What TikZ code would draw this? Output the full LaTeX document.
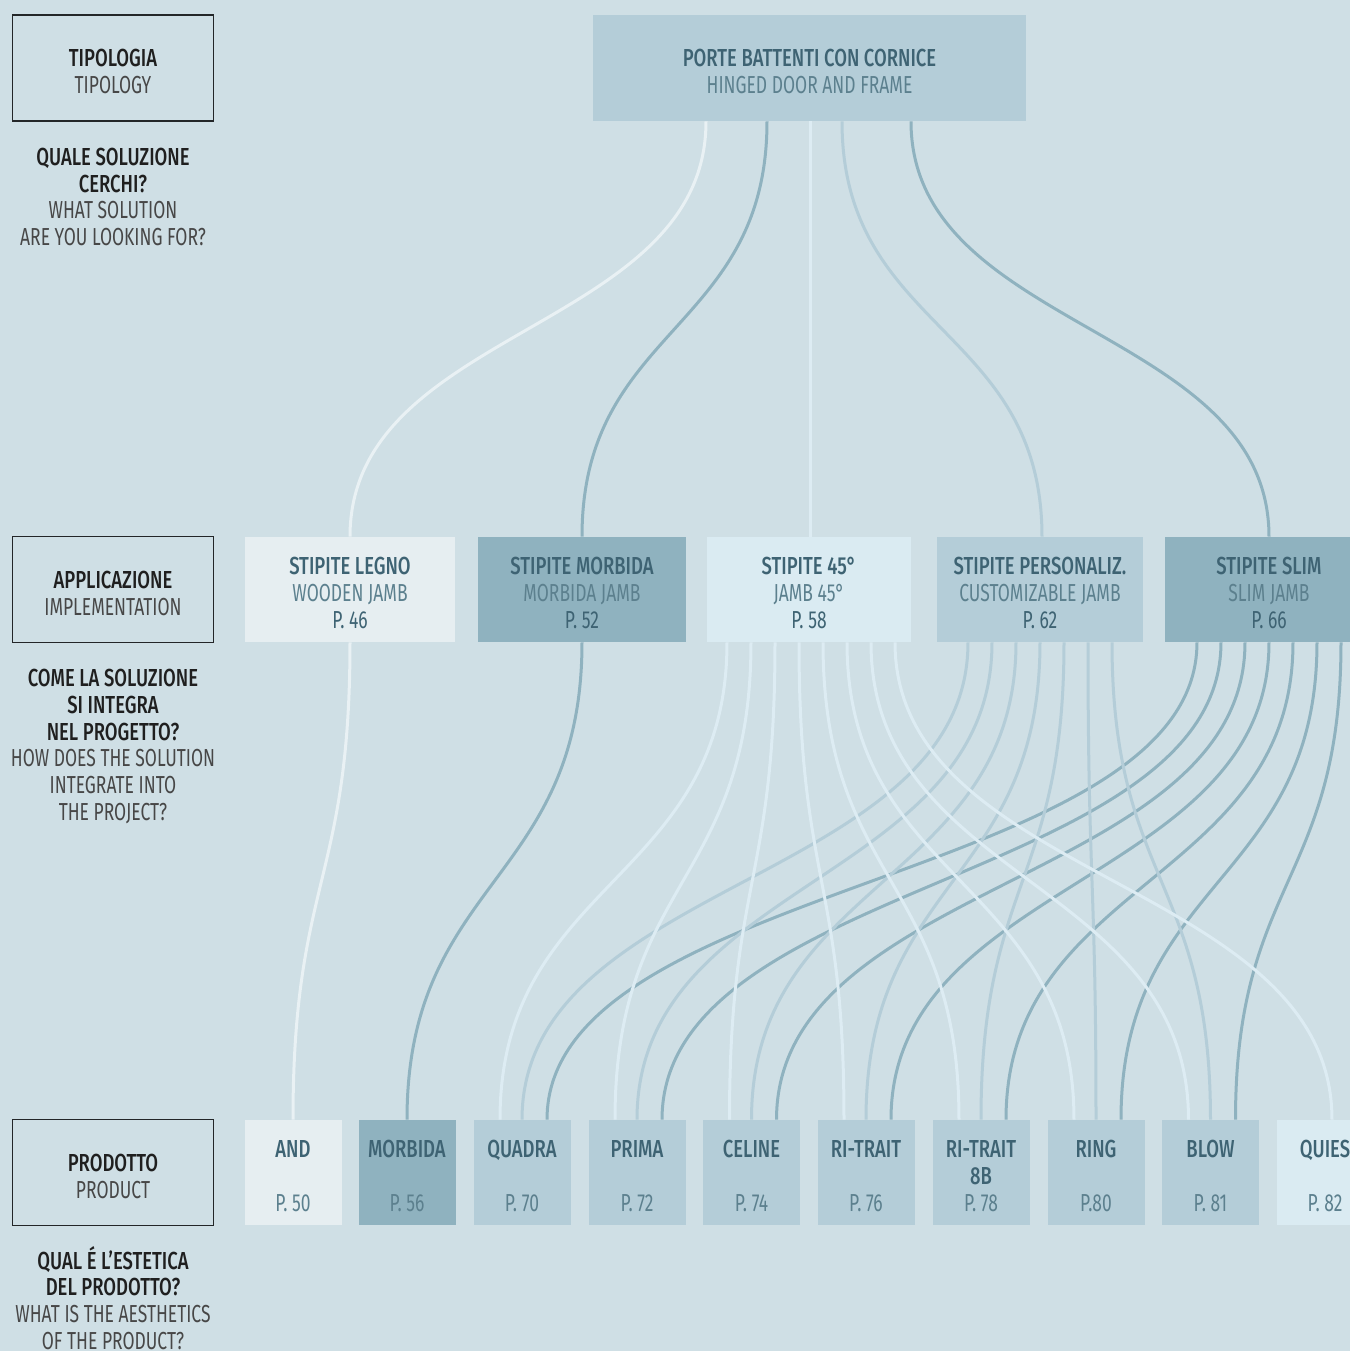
\documentclass[tikz,border=0pt]{standalone}
\usepackage{fontspec}
\setmainfont{Fira Sans}[BoldFont={Fira Sans Medium}, UprightFeatures={FakeStretch=0.71}, BoldFeatures={FakeStretch=0.75}]
\definecolor{PtBg}{RGB}{207,223,229}
\definecolor{PtPale}{RGB}{230,238,241}
\definecolor{PtIce}{RGB}{218,235,242}
\definecolor{PtMid}{RGB}{180,205,216}
\definecolor{PtDark}{RGB}{143,178,191}
\definecolor{PtInk}{RGB}{62,99,115}
\definecolor{PtSoft}{RGB}{92,128,142}
\definecolor{PtPaleLine}{RGB}{233,241,244}
\definecolor{PtIceLine}{RGB}{221,236,243}
\definecolor{PtFrame}{RGB}{35,38,40}
\usetikzlibrary{calc,backgrounds}
\newcommand{\lite}[1]{{\color{PtSoft}#1}}
\newcommand{\greytxt}[1]{{\color{black!72}#1}}
\newcommand{\topgap}{\mbox{}\\[-1pt]}

\begin{document}
\begin{tikzpicture}[
    x=0.5pt, y=-0.5pt,
    pbox/.style={rectangle, fill=#1, inner sep=0pt, minimum height=52.5pt, align=center, text=PtInk, font=\fontsize{12.3}{13.5}\selectfont},
    lbox/.style={rectangle, draw=PtFrame, line width=0.7pt, minimum width=100.5pt, minimum height=53pt, align=center, text=black!88, font=\fontsize{12.3}{13.5}\selectfont},
    ask/.style={align=center, text=black!88, font=\fontsize{12.3}{13.4}\selectfont},
    wire/.style={draw=#1, line width=1.5pt}
]
    \useasboundingbox (0,0) rectangle (1350,1351);

    % left column
    \node[lbox] (ltype) at (113,68) {\topgap\textbf{TIPOLOGIA}\\\greytxt{TIPOLOGY}};
    \node[ask] (qtype) at (113,197) {\textbf{QUALE SOLUZIONE}\\\textbf{CERCHI?}\\\greytxt{WHAT SOLUTION}\\\greytxt{ARE YOU LOOKING FOR?}};
    \node[lbox] (lapp) at (113,589.5) {\topgap\textbf{APPLICAZIONE}\\\greytxt{IMPLEMENTATION}};
    \node[ask] (qapp) at (113,746.5) {\textbf{COME LA SOLUZIONE}\\\textbf{SI INTEGRA}\\\textbf{NEL PROGETTO?}\\\greytxt{HOW DOES THE SOLUTION}\\\greytxt{INTEGRATE INTO}\\\greytxt{THE PROJECT?}};
    \node[lbox] (lprod) at (113,1172.5) {\topgap\textbf{PRODOTTO}\\\greytxt{PRODUCT}};
    \node[ask] (qprod) at (113,1298) {\textbf{QUAL É L’ESTETICA}\\\textbf{DEL PRODOTTO?}\\\greytxt{WHAT IS THE AESTHETICS}\\\greytxt{OF THE PRODUCT?}};

    % typology
    \node[pbox=PtMid, minimum width=216.5pt, minimum height=53pt] (door) at (809.5,68) {\topgap\textbf{PORTE BATTENTI CON CORNICE}\\\lite{HINGED DOOR AND FRAME}};

    % jambs
    \node[pbox=PtPale, minimum width=105pt] (legno) at (350,589.5) {\topgap\textbf{STIPITE LEGNO}\\\lite{WOODEN JAMB}\\P. 46};
    \node[pbox=PtDark, minimum width=104pt] (smorb) at (582,589.5) {\topgap\textbf{STIPITE MORBIDA}\\\lite{MORBIDA JAMB}\\P. 52};
    \node[pbox=PtIce, minimum width=102pt] (s45) at (809,589.5) {\topgap\textbf{STIPITE 45°}\\\lite{JAMB 45°}\\P. 58};
    \node[pbox=PtMid, minimum width=103pt] (spers) at (1040,589.5) {\topgap\textbf{STIPITE PERSONALIZ.}\\\lite{CUSTOMIZABLE JAMB}\\P. 62};
    \node[pbox=PtDark, minimum width=104pt] (slim) at (1269,589.5) {\topgap\textbf{STIPITE SLIM}\\\lite{SLIM JAMB}\\P. 66};

    % products
    \node[pbox=PtPale, minimum width=48.5pt] (and) at (293,1172.5) {\topgap\textbf{AND}\\[13.5pt]\lite{P. 50}};
    \node[pbox=PtDark, minimum width=48.5pt] (morb) at (407,1172.5) {\topgap\textbf{MORBIDA}\\[13.5pt]\lite{P. 56}};
    \node[pbox=PtMid, minimum width=48.5pt] (quadra) at (522,1172.5) {\topgap\textbf{QUADRA}\\[13.5pt]\lite{P. 70}};
    \node[pbox=PtMid, minimum width=48.5pt] (prima) at (637,1172.5) {\topgap\textbf{PRIMA}\\[13.5pt]\lite{P. 72}};
    \node[pbox=PtMid, minimum width=48.5pt] (celine) at (751.5,1172.5) {\topgap\textbf{CELINE}\\[13.5pt]\lite{P. 74}};
    \node[pbox=PtMid, minimum width=48.5pt] (ritrait) at (866,1172.5) {\topgap\textbf{RI-TRAIT}\\[13.5pt]\lite{P. 76}};
    \node[pbox=PtMid, minimum width=48.5pt] (ritraitb) at (981,1172.5) {\topgap\textbf{RI-TRAIT}\\\textbf{8B}\\\lite{P. 78}};
    \node[pbox=PtMid, minimum width=48.5pt] (ring) at (1096,1172.5) {\topgap\textbf{RING}\\[13.5pt]\lite{P.80}};
    \node[pbox=PtMid, minimum width=48.5pt] (blow) at (1210.5,1172.5) {\topgap\textbf{BLOW}\\[13.5pt]\lite{P. 81}};
    \node[pbox=PtIce, minimum width=48.5pt] (quies) at (1325,1172.5) {\topgap\textbf{QUIES}\\[13.5pt]\lite{P. 82}};

    \begin{scope}[on background layer]
        \fill[PtBg] (0,0) rectangle (1350,1351);
        % typology to jambs
        \draw[wire=PtDark] ($(door.south)+(-42.5,0)$) .. controls +(0,210) and +(0,-210) .. (smorb.north);
        \draw[wire=PtDark] ($(door.south)+(101.5,0)$) .. controls +(0,210) and +(0,-210) .. (slim.north);
        \draw[wire=PtMid] ($(door.south)+(32.5,0)$) .. controls +(0,210) and +(0,-210) .. ($(spers.north)+(2,0)$);
        \draw[wire=PtIceLine] ($(door.south)+(0.5,0)$) -- ($(s45.north)+(1,0)$);
        \draw[wire=PtPaleLine] ($(door.south)+(-103.5,0)$) .. controls +(0,210) and +(0,-210) .. (legno.north);
        % jambs to products
        \draw[wire=PtDark] (smorb.south) .. controls +(0,240) and +(0,-240) .. (morb.north);
        \foreach \p [count=\i] in {quadra,prima,celine,ritrait,ritraitb,ring,blow}
            \draw[wire=PtDark] ($(slim.south)+({-72+24*(\i-1)},0)$) .. controls +(0,240) and +(0,-240) .. ($(\p.north)+(25,0)$);
        \foreach \p [count=\i] in {quadra,prima,celine,ritrait,ritraitb,ring,blow}
            \draw[wire=PtMid] ($(spers.south)+({-72+24*(\i-1)},0)$) .. controls +(0,240) and +(0,-240) .. (\p.north);
        \foreach \p [count=\i] in {quadra,prima,celine,ritrait,ritraitb,ring,blow}
            \draw[wire=PtIceLine] ($(s45.south)+({-82+24*(\i-1)},0)$) .. controls +(0,240) and +(0,-240) .. ($(\p.north)+(-22,0)$);
        \draw[wire=PtIceLine] ($(s45.south)+(86,0)$) .. controls +(0,240) and +(0,-240) .. ($(quies.north)+(7,0)$);
        \draw[wire=PtPaleLine] (legno.south) .. controls +(0,240) and +(0,-240) .. (and.north);
    \end{scope}
\end{tikzpicture}
\end{document}
